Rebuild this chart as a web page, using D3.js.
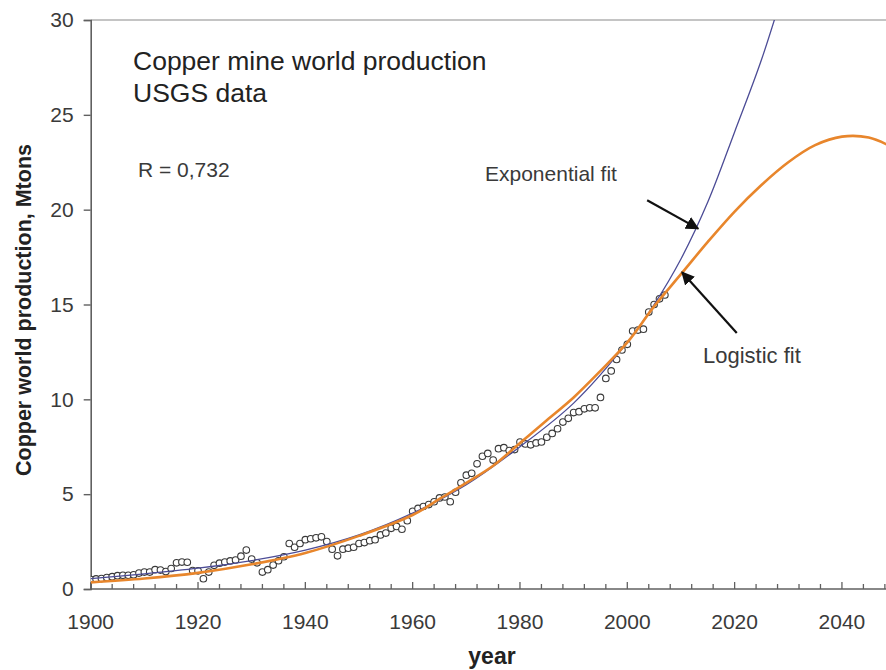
<!DOCTYPE html>
<html>
<head>
<meta charset="utf-8">
<script src="https://cdn.jsdelivr.net/npm/d3@7"></script>
<style>
  html, body { margin: 0; padding: 0; background: #fff; }
  svg { display: block; font-family: "Liberation Sans", Arial, sans-serif; }
</style>
</head>
<body>
<svg id="chart" width="886" height="670"></svg>
<script>
// World copper mine production, million tonnes (USGS), 1900-2007
const years = d3.range(1900, 2008);
const production = [
  0.50, 0.53, 0.55, 0.60, 0.65, 0.70, 0.72, 0.72, 0.75, 0.84,
  0.89, 0.89, 1.02, 1.00, 0.92, 1.08, 1.38, 1.42, 1.41, 0.97,
  0.96, 0.54, 0.89, 1.25, 1.36, 1.42, 1.48, 1.53, 1.73, 2.05,
  1.58, 1.38, 0.89, 1.02, 1.26, 1.49, 1.70, 2.40, 2.20, 2.40,
  2.60, 2.65, 2.70, 2.75, 2.50, 2.10, 1.75, 2.10, 2.15, 2.20,
  2.40, 2.45, 2.55, 2.60, 2.85, 2.95, 3.20, 3.30, 3.15, 3.60,
  4.10, 4.25, 4.35, 4.45, 4.60, 4.80, 4.85, 4.60, 5.10, 5.60,
  6.00, 6.10, 6.60, 7.00, 7.15, 6.80, 7.40, 7.45, 7.30, 7.35,
  7.75, 7.65, 7.60, 7.70, 7.75, 8.00, 8.20, 8.45, 8.80, 9.00,
  9.30, 9.35, 9.50, 9.55, 9.55, 10.10, 11.10, 11.50, 12.10, 12.60,
  12.90, 13.60, 13.65, 13.70, 14.60, 15.00, 15.30, 15.50
];

// Fitted curves, sampled along the years
const expYears = [1900, 1910, 1920, 1930, 1940, 1950, 1960, 1970, 1980, 1990, 2000, 2005, 2010, 2015, 2020, 2025, 2030];
const expFit   = [0.55, 0.80, 1.10, 1.50, 2.05, 2.85, 4.00, 5.50, 7.50, 9.80, 13.0, 15.0, 17.4, 20.4, 24.1, 27.9, 32.4];

const logYears = [1900, 1910, 1920, 1930, 1940, 1950, 1960, 1965, 1970, 1975, 1980, 1985, 1990, 1995, 2000, 2005, 2010, 2015, 2020, 2025, 2030, 2035, 2040, 2045, 2050];
const logFit   = [0.35, 0.55, 0.85, 1.30, 1.90, 2.80, 3.90, 4.75, 5.60, 6.50, 7.70, 8.90, 10.1, 11.5, 13.0, 14.9, 16.6, 18.3, 19.9, 21.3, 22.5, 23.4, 23.85, 23.8, 23.2];

// Axis ticks
const xMajorTicks = [1900, 1920, 1940, 1960, 1980, 2000, 2020, 2040];
const xMinorTicks = d3.range(1900, 2051, 4);
const yTicks = [0, 5, 10, 15, 20, 25, 30];

const svg = d3.select("#chart");

const x = d3.scaleLinear().domain([1900, 2050]).range([90.7, 895.6]);
const y = d3.scaleLinear().domain([0, 30]).range([589, 20]);

const textColor = "#3a3a3a";
const axisColor = "#606060";

const defs = svg.append("defs");
defs.append("clipPath").attr("id", "plot")
  .append("rect").attr("x", x(1900)).attr("y", y(30)).attr("width", 900).attr("height", y(0) - y(30));

defs.append("marker")
  .attr("id", "head").attr("viewBox", "0 0 10 10")
  .attr("refX", 9).attr("refY", 5)
  .attr("markerWidth", 6).attr("markerHeight", 6)
  .attr("orient", "auto")
  .append("path").attr("d", "M0,0 L10,5 L0,10 z").attr("fill", "#111");

// Plot-area top border
svg.append("line")
  .attr("x1", x(1900)).attr("x2", 886)
  .attr("y1", y(30)).attr("y2", y(30))
  .attr("stroke", "#8a8a8a").attr("stroke-width", 1.2);

// Y axis
const yAxis = svg.append("g")
  .attr("transform", `translate(${x(1900)},0)`)
  .call(d3.axisLeft(y).tickValues(yTicks).tickSize(7).tickPadding(10));
yAxis.select(".domain").attr("stroke", axisColor).attr("stroke-width", 1.6);
yAxis.selectAll(".tick line").attr("stroke", axisColor).attr("stroke-width", 1.4);
yAxis.selectAll(".tick text")
  .attr("fill", textColor).attr("font-size", 21)
  .attr("font-family", "'Liberation Sans', Arial, sans-serif");

// X axis: line, inward ticks, labels
const xAxis = svg.append("g").attr("transform", `translate(0,${y(0)})`);
xAxis.append("line")
  .attr("x1", x(1900)).attr("x2", 886)
  .attr("stroke", axisColor).attr("stroke-width", 1.6);
xAxis.selectAll("line.minor").data(xMinorTicks).join("line")
  .attr("class", "minor")
  .attr("x1", d => x(d)).attr("x2", d => x(d))
  .attr("y1", 0).attr("y2", d => xMajorTicks.includes(d) ? -7 : -5)
  .attr("stroke", axisColor).attr("stroke-width", 1.3);
xAxis.selectAll("text").data(xMajorTicks).join("text")
  .attr("x", d => x(d)).attr("y", 40)
  .attr("text-anchor", "middle")
  .attr("fill", textColor).attr("font-size", 21)
  .text(d => d);

// Axis titles
svg.append("text")
  .attr("transform", "translate(31,310) rotate(-90)")
  .attr("text-anchor", "middle")
  .attr("font-weight", "bold").attr("font-size", 21.5)
  .attr("fill", "#222")
  .text("Copper world production, Mtons");

svg.append("text")
  .attr("x", 492).attr("y", 664)
  .attr("text-anchor", "middle")
  .attr("font-weight", "bold").attr("font-size", 23)
  .attr("fill", "#222")
  .text("year");

const plot = svg.append("g").attr("clip-path", "url(#plot)");

// Observed production
plot.append("g").selectAll("circle")
  .data(years.map((yr, i) => [yr, production[i]]))
  .join("circle")
  .attr("cx", d => x(d[0])).attr("cy", d => y(d[1]))
  .attr("r", 3.3)
  .attr("fill", "#fff").attr("stroke", "#3a3a3a").attr("stroke-width", 1.1);

const line = d3.line().x(d => x(d[0])).y(d => y(d[1])).curve(d3.curveCatmullRom.alpha(0.5));

// Exponential fit
plot.append("path")
  .datum(expYears.map((yr, i) => [yr, expFit[i]]))
  .attr("d", line)
  .attr("fill", "none").attr("stroke", "#4c4c96").attr("stroke-width", 1.3);

// Logistic fit
plot.append("path")
  .datum(logYears.map((yr, i) => [yr, logFit[i]]))
  .attr("d", line)
  .attr("fill", "none").attr("stroke", "#e8862c").attr("stroke-width", 2.6);

// Annotations
const textStyle = sel => sel.attr("fill", textColor).attr("font-size", 21);

svg.append("text").attr("x", 133).attr("y", 70)
  .attr("fill", "#222").attr("font-size", 26.5)
  .text("Copper mine world production");
svg.append("text").attr("x", 133).attr("y", 102)
  .attr("fill", "#222").attr("font-size", 26.5)
  .text("USGS data");
svg.append("text").attr("x", 138).attr("y", 177).call(textStyle)
  .text("R = 0,732");
svg.append("text").attr("x", 485).attr("y", 181).call(textStyle)
  .text("Exponential fit");
svg.append("text").attr("x", 703).attr("y", 363).call(textStyle)
  .attr("font-size", 22)
  .text("Logistic fit");

// Arrows pointing at the two curves
const arrows = [
  { from: [2003.7, 20.5], to: [2013.2, 19.0] },
  { from: [2020.4, 13.5], to: [2010.2, 16.7] }
];
svg.selectAll("line.arrow").data(arrows).join("line")
  .attr("class", "arrow")
  .attr("x1", d => x(d.from[0])).attr("y1", d => y(d.from[1]))
  .attr("x2", d => x(d.to[0])).attr("y2", d => y(d.to[1]))
  .attr("stroke", "#111").attr("stroke-width", 2.2)
  .attr("marker-end", "url(#head)");
</script>
</body>
</html>
